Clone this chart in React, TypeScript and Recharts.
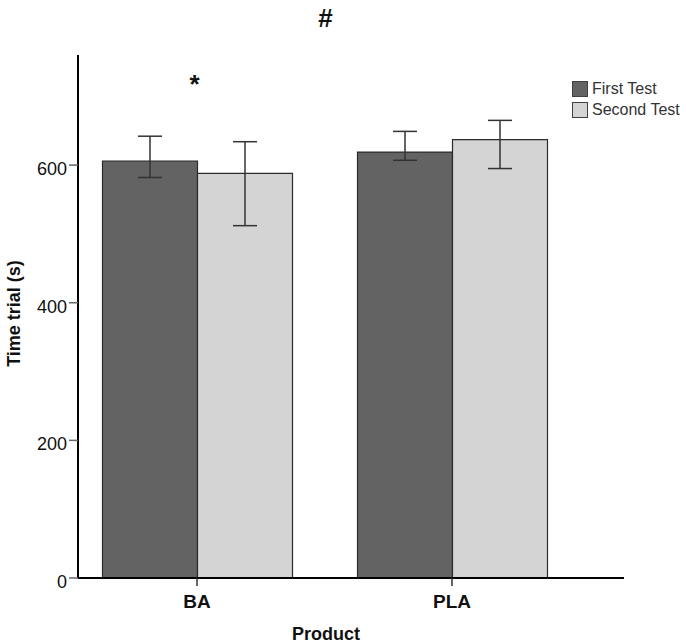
import React from 'react';
import { BarChart, Bar, XAxis, YAxis, ErrorBar, Legend } from 'recharts';

const categories = ['BA', 'PLA'];
const firstTest = [606, 619];
const secondTest = [588, 637];
const firstErrLow = [24, 12];
const firstErrHigh = [36, 30];
const secondErrLow = [76, 42];
const secondErrHigh = [46, 28];
const yTicks = [0, 200, 400, 600];
const seriesNames = ['First Test', 'Second Test'];
const seriesColors = ['#636363', '#d4d4d4'];

const data = categories.map((c, i) => ({
  product: c,
  first: firstTest[i],
  second: secondTest[i],
  firstErr: [firstErrLow[i], firstErrHigh[i]],
  secondErr: [secondErrLow[i], secondErrHigh[i]],
}));

const FONT = '"Liberation Sans", Arial, Helvetica, sans-serif';

const YTick = (props: any) => {
  const { y, payload } = props;
  return (
    <text x={67} y={y + 10} textAnchor="end" fontFamily={FONT} fontSize={18} fill="#111">
      {payload.value}
    </text>
  );
};

const XTick = (props: any) => {
  const { x, payload } = props;
  return (
    <text x={x} y={608} textAnchor="middle" fontFamily={FONT} fontSize={19} fontWeight="bold" fill="#111">
      {payload.value}
    </text>
  );
};

const YLabel = () => (
  <text
    x={19.5}
    y={313.5}
    transform="rotate(-90, 19.5, 313.5)"
    textAnchor="middle"
    fontFamily={FONT}
    fontSize={18}
    fontWeight="bold"
    fill="#111"
  >
    Time trial (s)
  </text>
);

const XLabel = () => (
  <g>
    <text x={326} y={640} textAnchor="middle" fontFamily={FONT} fontSize={18} fontWeight="bold" fill="#111">
      Product
    </text>
    <text x={325.5} y={27} textAnchor="middle" fontFamily={FONT} fontSize={26} fontWeight="bold" fill="#111">
      #
    </text>
    <text x={194.5} y={93} textAnchor="middle" fontFamily={FONT} fontSize={26} fontWeight="bold" fill="#111">
      *
    </text>
  </g>
);

const renderLegend = () => (
  <div style={{ fontFamily: FONT, fontSize: 16, color: '#333' }}>
    {seriesNames.map((name, i) => (
      <div key={name} style={{ display: 'flex', alignItems: 'center', height: 21 }}>
        <span
          style={{
            display: 'inline-block',
            width: 16,
            height: 16,
            boxSizing: 'border-box',
            border: '1px solid #404040',
            background: seriesColors[i],
            marginRight: 4,
          }}
        />
        <span style={{ lineHeight: '21px', whiteSpace: 'nowrap' }}>{name}</span>
      </div>
    ))}
  </div>
);

export default function App() {
  return (
    <div style={{ position: 'absolute', left: 0, top: 0, width: 686, height: 643, background: '#fff' }}>
      <BarChart
        width={686}
        height={643}
        data={data}
        margin={{ top: 55, right: 62, bottom: 0, left: 0 }}
        barCategoryGap={33}
        barGap={0}
      >
        <XAxis
          dataKey="product"
          height={65}
          padding={{ left: -8.5, right: 44.5 }}
          axisLine={{ stroke: '#000', strokeWidth: 2 }}
          tickLine={{ stroke: '#333', strokeWidth: 1.5 }}
          tickSize={8}
          tick={<XTick />}
          label={XLabel}
        />
        <YAxis
          width={78}
          domain={[0, 760]}
          ticks={yTicks}
          allowDataOverflow={false}
          axisLine={{ stroke: '#000', strokeWidth: 2 }}
          tickLine={{ stroke: '#666', strokeWidth: 1.5 }}
          tickSize={9}
          tick={<YTick />}
          label={YLabel}
        />
        <Legend
          layout="vertical"
          align="center"
          verticalAlign="middle"
          content={renderLegend}
          wrapperStyle={{ top: 78, left: 572, right: 'auto', bottom: 'auto', width: 'auto' }}
        />
        <Bar dataKey="first" fill={seriesColors[0]} stroke="#2b2b2b" strokeWidth={1.2} isAnimationActive={false}>
          <ErrorBar dataKey="firstErr" direction="y" width={12} stroke="#333" strokeWidth={1.5} />
        </Bar>
        <Bar dataKey="second" fill={seriesColors[1]} stroke="#2b2b2b" strokeWidth={1.2} isAnimationActive={false}>
          <ErrorBar dataKey="secondErr" direction="y" width={12} stroke="#333" strokeWidth={1.5} />
        </Bar>
      </BarChart>
    </div>
  );
}
